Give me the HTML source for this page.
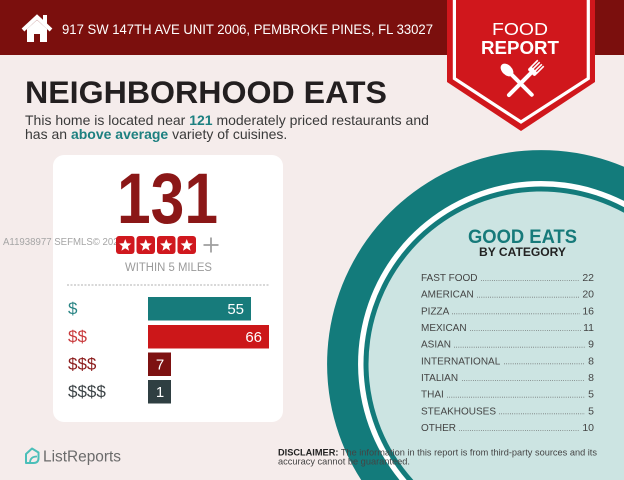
<!DOCTYPE html>
<html><head><meta charset="utf-8">
<style>
html,body{margin:0;padding:0;background:#f5eceb;width:624px;height:480px;overflow:hidden;}
svg{display:block;position:absolute;left:0;top:0;}
text{font-family:"Liberation Sans",Arial,sans-serif;}
</style></head>
<body>
<svg width="624" height="480" viewBox="0 0 624 480" xmlns="http://www.w3.org/2000/svg" overflow="hidden">
  <rect x="0" y="0" width="624" height="480" fill="#f5eceb"/>

  <!-- Big circle (clipped to frame) -->
  <path d="M361.2,480 A214,214 0 0 1 624,166.8 L624,480 Z" fill="#137b7b"/>
  <path d="M399.5,480 A183,183 0 0 1 624,200.9 L624,480 Z" fill="#ffffff"/>
  <path d="M406.65,480 A177.5,177.5 0 0 1 624,207.1 L624,480 Z" fill="#137b7b"/>
  <path d="M413.33,480 A172.5,172.5 0 0 1 624,212.78 L624,480 Z" fill="#cce4e2"/>

  <!-- Header band -->
  <rect x="0" y="0" width="624" height="55" fill="#7b0f0d"/>
  <!-- House icon -->
  <rect x="43" y="15" width="4" height="9" fill="#fff"/>
  <polygon points="27,29 37,20 47,29 47,42 40,42 40,34 34,34 34,42 27,42" fill="#fff"/>
  <polyline points="23,30 37,17 51,30" fill="none" stroke="#fff" stroke-width="4"/>
  <text x="62" y="34" font-size="14" fill="#ffffff" textLength="371" lengthAdjust="spacingAndGlyphs">917 SW 147TH AVE UNIT 2006, PEMBROKE PINES, FL 33027</text>

  <!-- Banner -->
  <polygon points="447,0 595,0 595,82 521,131 447,82" fill="#d0171c"/>
  <polyline points="454.4,0 454.4,78.5 521,122 588.3,78.5 588.3,0" fill="none" stroke="#ffffff" stroke-width="3.2"/>
  <text x="520" y="35" font-size="17.5" fill="#fff" text-anchor="middle" textLength="56" lengthAdjust="spacingAndGlyphs">FOOD</text>
  <text x="520" y="54" font-size="18" font-weight="bold" fill="#fff" text-anchor="middle" textLength="78" lengthAdjust="spacingAndGlyphs">REPORT</text>
  <!-- spoon -->
  <g transform="translate(507,70) rotate(-45)" fill="#fff">
    <ellipse cx="0" cy="0" rx="5" ry="7.5"/>
    <rect x="-2" y="5" width="4" height="32" rx="2"/>
  </g>
  <!-- fork -->
  <g transform="translate(533,71) rotate(45)" fill="#fff">
    <rect x="-2" y="2" width="4" height="34" rx="2"/>
    <rect x="-5" y="-2" width="10" height="5" rx="2"/>
    <rect x="-5" y="-11" width="1.6" height="10"/>
    <rect x="-2.3" y="-11" width="1.6" height="10"/>
    <rect x="0.7" y="-11" width="1.6" height="10"/>
    <rect x="3.4" y="-11" width="1.6" height="10"/>
  </g>

  <!-- Title -->
  <text x="25" y="103" font-size="31.5" font-weight="bold" fill="#231f20" textLength="362" lengthAdjust="spacingAndGlyphs">NEIGHBORHOOD EATS</text>
  <text x="25" y="125" font-size="14" fill="#3a3a3a">This home is located near <tspan font-weight="bold" fill="#1d8080">121</tspan> moderately priced restaurants and</text>
  <text x="25" y="139" font-size="14" fill="#3a3a3a">has an <tspan font-weight="bold" fill="#1d8080">above average</tspan> variety of cuisines.</text>

  <!-- Card -->
  <rect x="53" y="155" width="230" height="267" rx="11" fill="#ffffff"/>
  <text x="117" y="223" font-size="71" font-weight="bold" fill="#8b1717" textLength="101" lengthAdjust="spacingAndGlyphs">131</text>

  <!-- watermark -->
  <text x="3" y="245" font-size="10" fill="#a5a5a5" textLength="121" lengthAdjust="spacingAndGlyphs">A11938977  SEFMLS© 2025</text>

  <!-- stars -->
  <g>
    <rect x="116" y="236" width="18.5" height="18" rx="3" fill="#d0181e"/>
    <rect x="136.5" y="236" width="18.5" height="18" rx="3" fill="#d0181e"/>
    <rect x="157" y="236" width="18.5" height="18" rx="3" fill="#d0181e"/>
    <rect x="177.5" y="236" width="18.5" height="18" rx="3" fill="#d0181e"/>
    <g fill="#fff">
      <polygon transform="translate(125.25,245.5)" points="0,-6.5 1.65,-2.27 6.18,-2.01 2.66,0.87 3.82,5.26 0,2.8 -3.82,5.26 -2.66,0.87 -6.18,-2.01 -1.65,-2.27"/>
      <polygon transform="translate(145.75,245.5)" points="0,-6.5 1.65,-2.27 6.18,-2.01 2.66,0.87 3.82,5.26 0,2.8 -3.82,5.26 -2.66,0.87 -6.18,-2.01 -1.65,-2.27"/>
      <polygon transform="translate(166.25,245.5)" points="0,-6.5 1.65,-2.27 6.18,-2.01 2.66,0.87 3.82,5.26 0,2.8 -3.82,5.26 -2.66,0.87 -6.18,-2.01 -1.65,-2.27"/>
      <polygon transform="translate(186.75,245.5)" points="0,-6.5 1.65,-2.27 6.18,-2.01 2.66,0.87 3.82,5.26 0,2.8 -3.82,5.26 -2.66,0.87 -6.18,-2.01 -1.65,-2.27"/>
    </g>
    <line x1="203.5" y1="245" x2="218.5" y2="245" stroke="#a0a0a0" stroke-width="1.8"/>
    <line x1="211" y1="237.5" x2="211" y2="252.5" stroke="#a0a0a0" stroke-width="1.8"/>
  </g>
  <text x="125" y="271" font-size="11.5" fill="#9a9a9a" textLength="87" lengthAdjust="spacingAndGlyphs">WITHIN 5 MILES</text>
  <line x1="67" y1="285" x2="270" y2="285" stroke="#b0b0b0" stroke-width="1" stroke-dasharray="2,1.5"/>

  <!-- Bars -->
  <text x="68" y="314" font-size="17" fill="#2a8585">$</text>
  <rect x="148" y="297" width="103" height="23.5" fill="#177b7b"/>
  <text x="244" y="314" font-size="15" fill="#fff" text-anchor="end">55</text>

  <text x="68" y="342" font-size="17" fill="#c93a3c">$$</text>
  <rect x="148" y="325" width="121" height="23.5" fill="#cc1719"/>
  <text x="262" y="342" font-size="15" fill="#fff" text-anchor="end">66</text>

  <text x="68" y="369.5" font-size="17" fill="#8a1a1a">$$$</text>
  <rect x="148" y="352.5" width="23" height="23.5" fill="#7d1111"/>
  <text x="160" y="369.5" font-size="15" fill="#fff" text-anchor="middle">7</text>

  <text x="68" y="397" font-size="17" fill="#3d4447">$$$$</text>
  <rect x="148" y="380" width="23" height="23.5" fill="#2f3f42"/>
  <text x="160" y="397" font-size="15" fill="#fff" text-anchor="middle">1</text>

  <!-- Good eats -->
  <text x="468" y="243" font-size="19" font-weight="bold" fill="#167a7a" textLength="109" lengthAdjust="spacingAndGlyphs">GOOD EATS</text>
  <text x="479" y="256" font-size="12" font-weight="bold" fill="#222" textLength="87" lengthAdjust="spacingAndGlyphs">BY CATEGORY</text>

  <g font-size="10" fill="#444">
    <text x="421" y="281">FAST FOOD</text><text x="594" y="281" text-anchor="end" font-size="10.5">22</text>
    <line x1="481" y1="280.5" x2="579" y2="280.5" stroke="#666" stroke-width="0.8" stroke-dasharray="0.8,1.4"/>

    <text x="421" y="297.7">AMERICAN</text><text x="594" y="297.7" text-anchor="end" font-size="10.5">20</text>
    <line x1="477" y1="297.2" x2="579" y2="297.2" stroke="#666" stroke-width="0.8" stroke-dasharray="0.8,1.4"/>

    <text x="421" y="314.3">PIZZA</text><text x="594" y="314.3" text-anchor="end" font-size="10.5">16</text>
    <line x1="452" y1="313.8" x2="580" y2="313.8" stroke="#666" stroke-width="0.8" stroke-dasharray="0.8,1.4"/>

    <text x="421" y="331">MEXICAN</text><text x="594" y="331" text-anchor="end" font-size="10.5">11</text>
    <line x1="470" y1="330.5" x2="582" y2="330.5" stroke="#666" stroke-width="0.8" stroke-dasharray="0.8,1.4"/>

    <text x="421" y="347.7">ASIAN</text><text x="594" y="347.7" text-anchor="end" font-size="10.5">9</text>
    <line x1="454" y1="347.2" x2="585" y2="347.2" stroke="#666" stroke-width="0.8" stroke-dasharray="0.8,1.4"/>

    <text x="421" y="364.3">INTERNATIONAL</text><text x="594" y="364.3" text-anchor="end" font-size="10.5">8</text>
    <line x1="504" y1="363.8" x2="585" y2="363.8" stroke="#666" stroke-width="0.8" stroke-dasharray="0.8,1.4"/>

    <text x="421" y="381">ITALIAN</text><text x="594" y="381" text-anchor="end" font-size="10.5">8</text>
    <line x1="462" y1="380.5" x2="585" y2="380.5" stroke="#666" stroke-width="0.8" stroke-dasharray="0.8,1.4"/>

    <text x="421" y="397.7">THAI</text><text x="594" y="397.7" text-anchor="end" font-size="10.5">5</text>
    <line x1="447" y1="397.2" x2="585" y2="397.2" stroke="#666" stroke-width="0.8" stroke-dasharray="0.8,1.4"/>

    <text x="421" y="414.3">STEAKHOUSES</text><text x="594" y="414.3" text-anchor="end" font-size="10.5">5</text>
    <line x1="499" y1="413.8" x2="585" y2="413.8" stroke="#666" stroke-width="0.8" stroke-dasharray="0.8,1.4"/>

    <text x="421" y="431">OTHER</text><text x="594" y="431" text-anchor="end" font-size="10.5">10</text>
    <line x1="459" y1="430.5" x2="580" y2="430.5" stroke="#666" stroke-width="0.8" stroke-dasharray="0.8,1.4"/>
  </g>

  <!-- Logo -->
  <path d="M26,463 L26,454 L32,448.5 L38.5,452.5 L38.5,458 Q38.5,463 33.5,463 Z" fill="none" stroke="#4bbfb9" stroke-width="2" stroke-linejoin="round"/>
  <path d="M30,463 Q30,456.5 37,456.5" fill="none" stroke="#4bbfb9" stroke-width="1.8"/>
  <text x="43" y="461.5" font-size="15.5" fill="#6b6b6b" textLength="78" lengthAdjust="spacingAndGlyphs">ListReports</text>

  <!-- Disclaimer -->
  <text x="278" y="455.5" font-size="9.5" fill="#444" textLength="319" lengthAdjust="spacingAndGlyphs"><tspan font-weight="bold" fill="#222">DISCLAIMER:</tspan> The information in this report is from third-party sources and its</text>
  <text x="278" y="464.5" font-size="9.5" fill="#444" textLength="132" lengthAdjust="spacingAndGlyphs">accuracy cannot be guaranteed.</text>
</svg>
</body></html>
